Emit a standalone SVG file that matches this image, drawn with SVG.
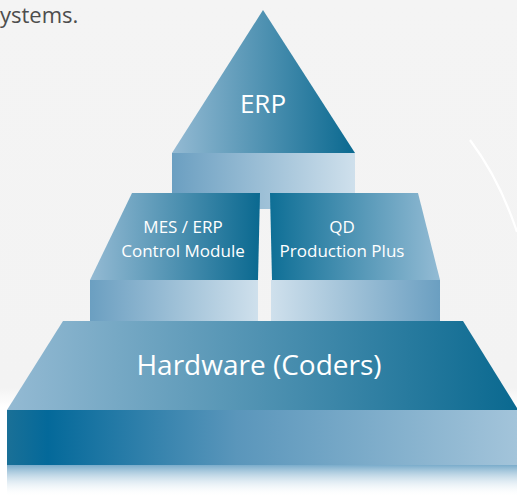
<svg xmlns="http://www.w3.org/2000/svg" width="517" height="497" viewBox="0 0 517 497">
<defs>
<linearGradient id="lightToDark" x1="0" y1="0" x2="1" y2="0"><stop offset="0" stop-color="#94bad3"/><stop offset="1" stop-color="#0a6990"/></linearGradient>
<linearGradient id="darkToLight" x1="0" y1="0" x2="1" y2="0"><stop offset="0" stop-color="#0e6f96"/><stop offset="1" stop-color="#93bbd4"/></linearGradient>
<linearGradient id="boxMidToLight" x1="0" y1="0" x2="1" y2="0"><stop offset="0" stop-color="#6b9fc1"/><stop offset="1" stop-color="#cfe0ec"/></linearGradient>
<linearGradient id="boxLightToMid" x1="0" y1="0" x2="1" y2="0"><stop offset="0" stop-color="#cfe0ec"/><stop offset="1" stop-color="#6b9fc1"/></linearGradient>
<linearGradient id="baseBox" x1="0" y1="0" x2="1" y2="0"><stop offset="0" stop-color="#1a7097"/><stop offset="0.08" stop-color="#04699a"/><stop offset="0.45" stop-color="#5a96bb"/><stop offset="1" stop-color="#a3c4da"/></linearGradient>
<linearGradient id="reflect" x1="0" y1="0" x2="0" y2="1"><stop offset="0" stop-color="#7aaccb"/><stop offset="1" stop-color="#ffffff" stop-opacity="0"/></linearGradient>
<linearGradient id="bg" x1="0" y1="0" x2="0" y2="1"><stop offset="0" stop-color="#f4f4f4"/><stop offset="0.78" stop-color="#f3f3f3"/><stop offset="0.82" stop-color="#ffffff"/></linearGradient>
</defs>
<style>
.lbl{font-family:"Open Sans","Liberation Sans",sans-serif;fill:#ffffff;text-anchor:middle}
</style>
<rect width="517" height="497" fill="url(#bg)"/>
<text x="0" y="23" font-family="'Open Sans','Liberation Sans',sans-serif" font-size="22" fill="#4d4d4d">ystems.</text>
<path d="M470 140 Q500 180 517 232" fill="none" stroke="#ffffff" stroke-width="2.2"/>
<g id="erp">
<rect x="172" y="153" width="183" height="56" fill="url(#boxMidToLight)"/>
<polygon points="263,10 355,153 172,153" fill="url(#lightToDark)"/>
<text class="lbl" x="263" y="113" font-size="26">ERP</text>
</g>
<g id="mes">
<rect x="90" y="280" width="168" height="42" fill="url(#boxMidToLight)"/>
<polygon points="132,193 260,193 258,280 90,280" fill="url(#lightToDark)"/>
<text class="lbl" x="183" y="233" font-size="17">MES / ERP</text>
<text class="lbl" x="183" y="257" font-size="17">Control Module</text>
</g>
<g id="qd">
<rect x="271" y="280" width="169" height="42" fill="url(#boxLightToMid)"/>
<polygon points="270,193 418,193 440,280 272,280" fill="url(#darkToLight)"/>
<text class="lbl" x="342" y="233" font-size="17">QD</text>
<text class="lbl" x="342" y="257" font-size="17">Production Plus</text>
</g>
<g id="hardware">
<rect x="7" y="465" width="510" height="32" fill="url(#reflect)"/>
<rect x="7" y="410" width="510" height="55" fill="url(#baseBox)"/>
<polygon points="63,321 463,321 517,408 517,410 7,410" fill="url(#lightToDark)"/>
<text class="lbl" x="259" y="375" font-size="28">Hardware (Coders)</text>
</g>
<g id="connectors"/>
</svg>
